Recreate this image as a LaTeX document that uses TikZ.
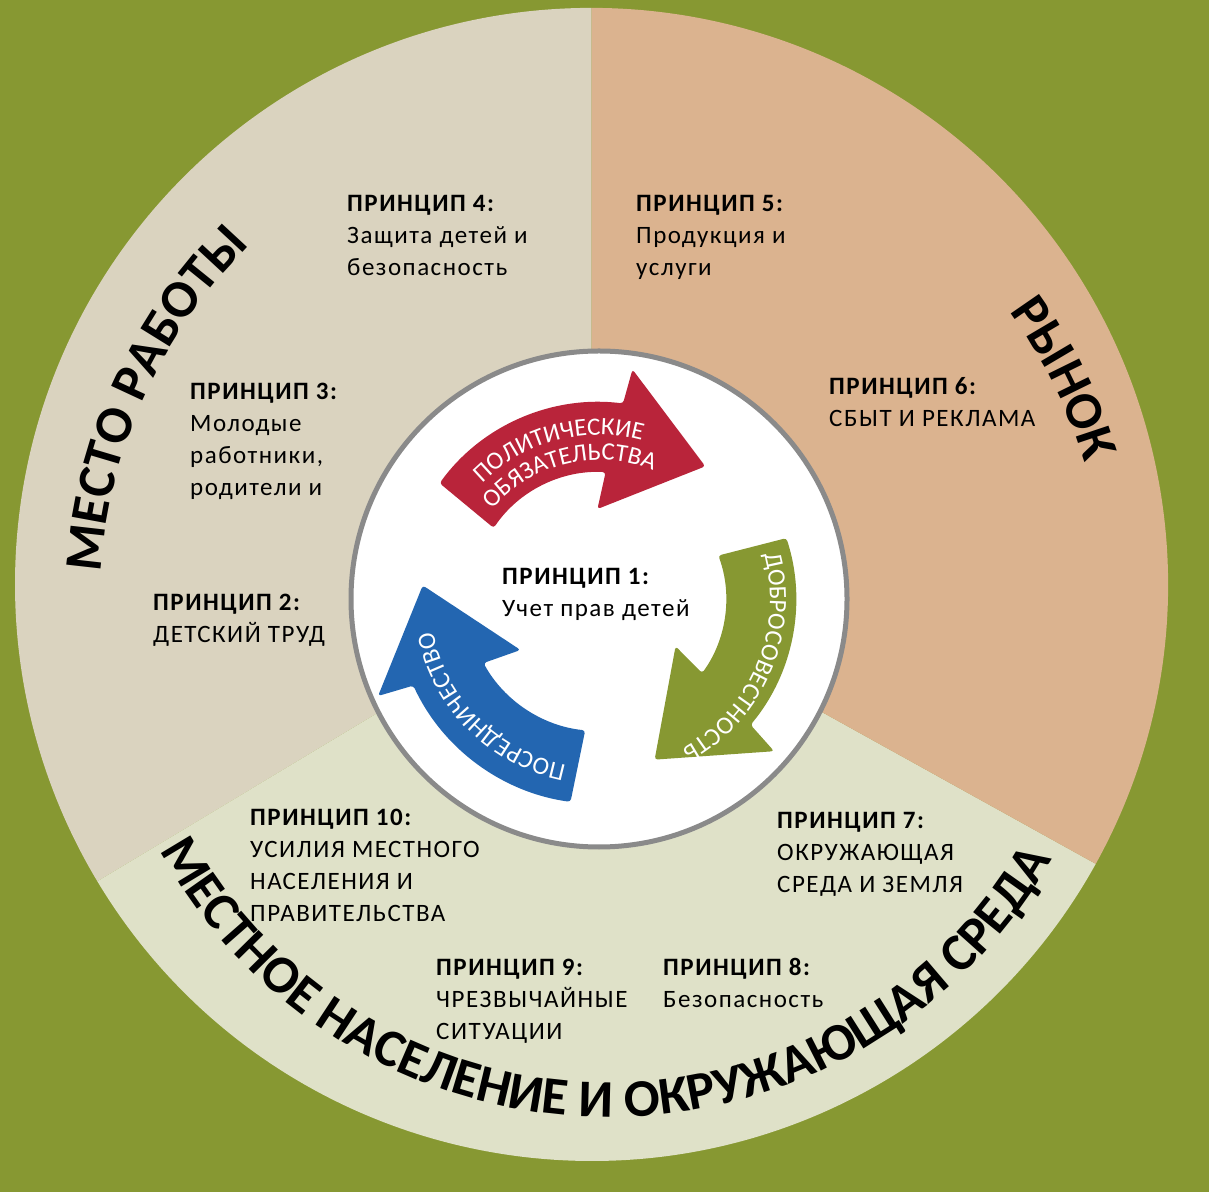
\documentclass[tikz,border=0pt]{standalone}
\usepackage{fontspec}
\setmainfont{Carlito}
\newfontfamily\notefont{Carlito}[LetterSpace=6]
\usetikzlibrary{decorations.text}
\definecolor{fieldgreen}{HTML}{879832}
\definecolor{workbeige}{HTML}{DAD3BF}
\definecolor{markettan}{HTML}{DBB38F}
\definecolor{landcream}{HTML}{DFE1C8}
\definecolor{dutyred}{HTML}{B9243A}
\definecolor{linkblue}{HTML}{2366B1}
\definecolor{rimgray}{HTML}{8A8A8A}
\newcommand{\bandfont}{\fontsize{53}{60}\selectfont\bfseries}
\newcommand{\flowfont}{\fontsize{25}{30}\selectfont}
% color, tail angle, head angle, tip angle
\newcommand{\cyclearrow}[4]{%
  \fill[#1, rounded corners=3pt] (#2:197) arc[start angle=#2, end angle=#3, radius=197]
    -- ({#3-1.3}:232) -- (#4:170) -- ({#3+8}:90) -- ({#3+4}:127)
    arc[start angle={#3+4}, end angle={#2+2}, radius=127] -- cycle;}
\tikzset{
  principle/.style={anchor=base west, align=left, inner sep=0pt,
    font=\notefont\fontsize{25}{32}\selectfont},
  bandtext/.style={decorate, decoration={text along path, text align=center,
    text={|\bandfont|#1}}},
  flowtext/.style={decorate, decoration={text along path, text align=center,
    text color=white, text={|\flowfont|#1}}}
}

\begin{document}
\begin{tikzpicture}[x=1pt, y=1pt]
    \useasboundingbox (0,0) rectangle (1209,1192);
    \fill[fieldgreen] (0,0) rectangle (1209,1192);
    \coordinate (hub) at (591.5,607.6);
    \coordinate (core) at (599,593);
    \coordinate (ring) at (608.6,586.1);
    % three fields
    \fill[workbeige] (hub) -- ++(90:576.5) arc[start angle=90, end angle=211, radius=576.5] -- cycle;
    \fill[landcream] (hub) -- ++(211:576.5) arc[start angle=211, end angle=331, radius=576.5] -- cycle;
    \fill[markettan] (hub) -- ++(331:576.5) arc[start angle=331, end angle=450, radius=576.5] -- cycle;
    \draw[rimgray, line width=5pt, fill=white] (core) circle[radius=248];
    % field titles
    \path[bandtext={МЕСТО РАБОТЫ}] ([shift={(200:509)}]ring) arc[start angle=200, end angle=111, radius=509];
    \path[bandtext={РЫНОК}] ([shift={(60:497)}]ring) arc[start angle=60, end angle=-7, radius=497];
    \path[bandtext={МЕСТНОЕ НАСЕЛЕНИЕ И ОКРУЖАЮЩАЯ СРЕДА}] ([shift={(199.4:511)}]ring) arc[start angle=199.4, end angle=339.4, radius=511];
    % cycle arrows
    \begin{scope}[shift={(core)}]
        \cyclearrow{dutyred}{144}{83}{51.3}
        \cyclearrow{fieldgreen}{18}{-39.7}{-70.9}
        \begin{scope}[scale=1.04]
            \cyclearrow{linkblue}{262}{205}{175.6}
        \end{scope}
        \path[flowtext={ПОЛИТИЧЕСКИЕ}] (150:164) arc[start angle=150, end angle=60, radius=164];
        \path[flowtext={ОБЯЗАТЕЛЬСТВА}] (148.5:139) arc[start angle=148.5, end angle=58.5, radius=139];
        \path[flowtext={ДОБРОСОВЕСТНОСТЬ}] (30:171) arc[start angle=30, end angle=-76, radius=171];
        \path[flowtext={ПОСРЕДНИЧЕСТВО}] (280:169) arc[start angle=280, end angle=170, radius=169];
    \end{scope}
    % principles (placed at the baseline of the last line)
    \node[principle] (p1) at (502,575) {\textbf{ПРИНЦИП 1:}\\Учет прав детей};
    \node[principle] (p2) at (153,549) {\textbf{ПРИНЦИП 2:}\\ДЕТСКИЙ ТРУД};
    \node[principle] (p3) at (190,696) {\textbf{ПРИНЦИП 3:}\\Молодые\\работники,\\родители и};
    \node[principle] (p4) at (347,916) {\textbf{ПРИНЦИП 4:}\\Защита детей и\\безопасность};
    \node[principle] (p5) at (636,916) {\textbf{ПРИНЦИП 5:}\\Продукция и\\услуги};
    \node[principle] (p6) at (829,765) {\textbf{ПРИНЦИП 6:}\\СБЫТ И РЕКЛАМА};
    \node[principle] (p7) at (777,300) {\textbf{ПРИНЦИП 7:}\\ОКРУЖАЮЩАЯ\\СРЕДА И ЗЕМЛЯ};
    \node[principle] (p8) at (663,185) {\textbf{ПРИНЦИП 8:}\\Безопасность};
    \node[principle] (p9) at (436,153) {\textbf{ПРИНЦИП 9:}\\ЧРЕЗВЫЧАЙНЫЕ\\СИТУАЦИИ};
    \node[principle] (p10) at (250,271) {\textbf{ПРИНЦИП 10:}\\УСИЛИЯ МЕСТНОГО\\НАСЕЛЕНИЯ И\\ПРАВИТЕЛЬСТВА};
\end{tikzpicture}
\end{document}
